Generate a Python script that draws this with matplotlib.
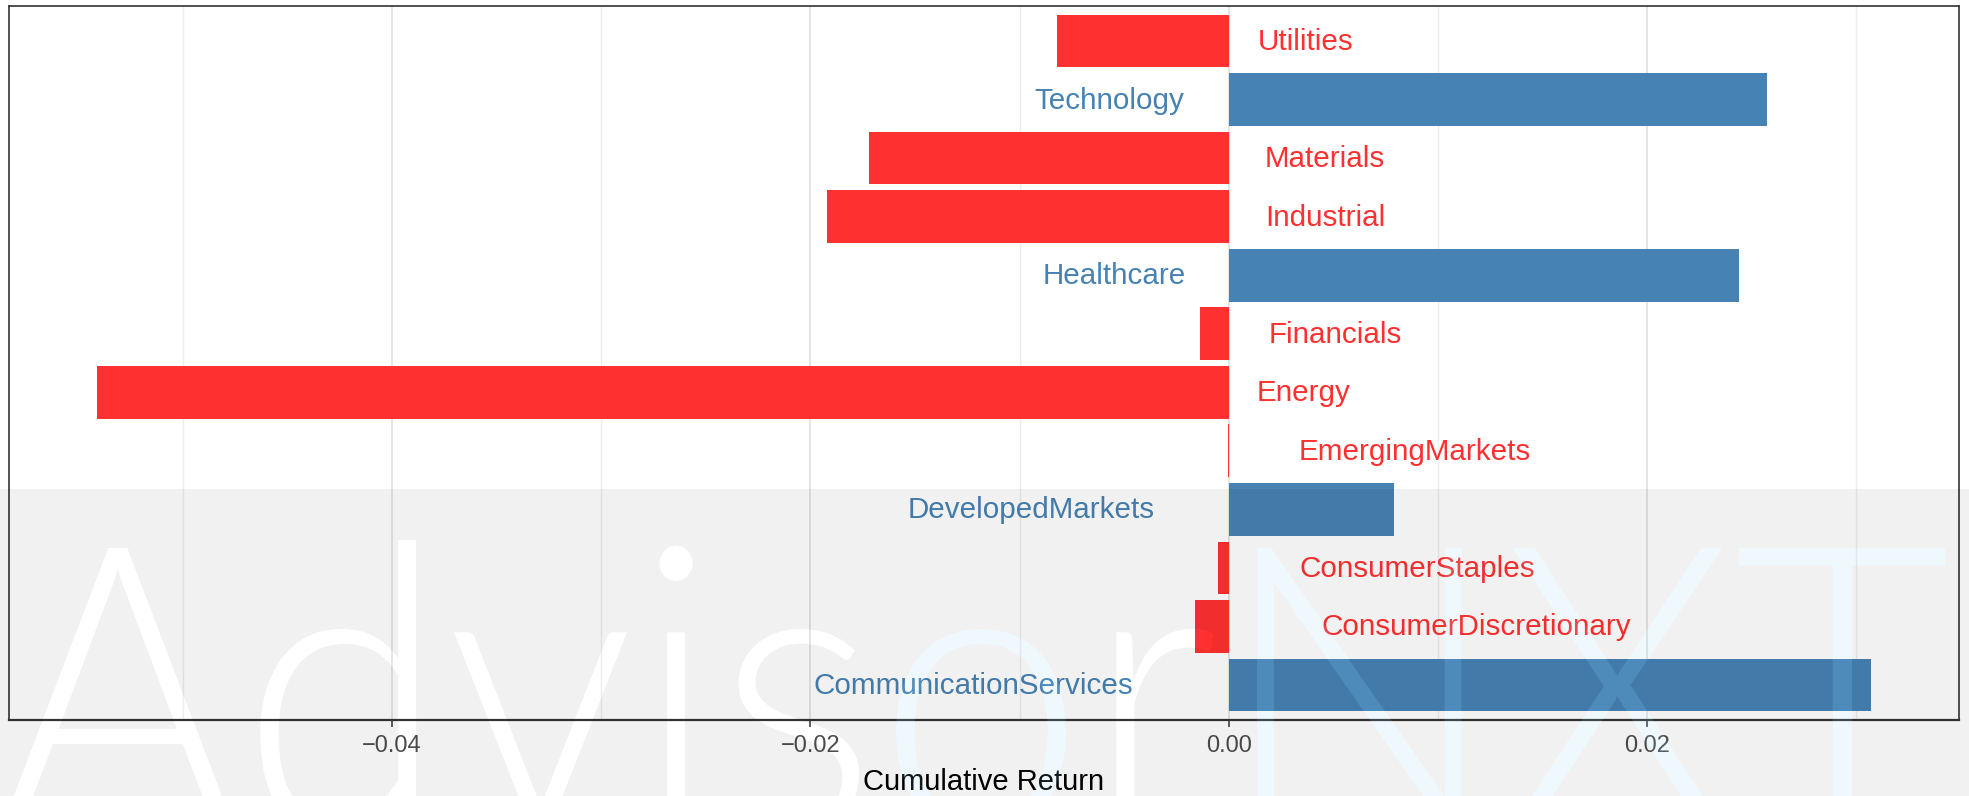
import numpy as np
import matplotlib
matplotlib.use("Agg")
import matplotlib.pyplot as plt
from matplotlib import font_manager
from matplotlib.path import Path
from matplotlib.patches import PathPatch
from matplotlib.textpath import TextPath, TextToPath
from matplotlib.font_manager import FontProperties
from matplotlib.transforms import Affine2D, IdentityTransform, offset_copy

# data, bottom to top
sectors = ["CommunicationServices", "ConsumerDiscretionary", "ConsumerStaples",
           "DevelopedMarkets", "EmergingMarkets", "Energy", "Financials",
           "Healthcare", "Industrial", "Materials", "Technology", "Utilities"]
returns = [0.0307, -0.0016, -0.0005, 0.0079, -0.00004, -0.0541, -0.0014,
           0.0244, -0.0192, -0.0172, 0.0257, -0.0082]
xticks = [-0.04, -0.02, 0.00, 0.02]
xtick_labels = ["\u22120.04", "\u22120.02", "0.00", "0.02"]

POS = "#4682B4"
NEG = "#FF3030"

plt.rcParams["font.family"] = ["Liberation Sans", "DejaVu Sans"]

W, H = 1969, 796
fig = plt.figure(figsize=(W / 100, H / 100), dpi=100)
fig.patch.set_facecolor("white")
ax = fig.add_axes([9 / W, (H - 720) / H, (1959 - 9) / W, (720 - 6) / H])

y = np.arange(len(sectors))
colors = [POS if r > 0 else NEG for r in returns]
ax.barh(y, returns, height=0.9, color=colors, zorder=2)

ax.set_xlim(-0.0583, 0.0349)
ax.set_ylim(-0.6, len(sectors) - 0.4)
ax.set_xticks(xticks)
ax.set_xticklabels(xtick_labels)
ax.set_xticks([-0.05, -0.03, -0.01, 0.01, 0.03], minor=True)
ax.set_yticks([])
ax.grid(axis="x", which="major", color="#E3E3E3", linewidth=1.3, zorder=0)
ax.grid(axis="x", which="minor", color="#EDEDED", linewidth=1.0, zorder=0)
ax.set_axisbelow(True)
ax.tick_params(axis="x", which="major", length=5, width=1.1, color="#333333",
               labelsize=17, labelcolor="#4D4D4D", pad=6)
ax.tick_params(axis="x", which="minor", length=0)
for s in ax.spines.values():
    s.set_color("#333333")
    s.set_linewidth(1.2)
ax.spines["bottom"].set_linewidth(1.6)
ax.set_xlabel("Cumulative Return", fontsize=21, color="black", labelpad=8)

# sector labels next to zero line (hjust 1.3 / -0.3)
texts = []
for yi, name, r, c in zip(y, sectors, returns, colors):
    t = ax.text(0, yi, name, color=c, fontsize=21.3, va="center",
                ha="right" if r > 0 else "left", zorder=3)
    texts.append((t, r))
fig.canvas.draw()
renderer = fig.canvas.get_renderer()
for t, r in texts:
    w = t.get_window_extent(renderer).width
    dx = -0.3 * w if r > 0 else 0.3 * w
    t.set_transform(offset_copy(ax.transData, fig=fig, x=dx, y=-1, units="dots"))

# watermark font: a light sans if one is installed
fp = None
for want in ("Lato-Light.", "Roboto-Light.", "OpenSans-Light.", "NotoSans-Light."):
    hits = [f.fname for f in font_manager.fontManager.ttflist if want in f.fname]
    if hits:
        fp = FontProperties(fname=hits[0])
        break
if fp is None:
    fp = FontProperties(family=["Lato", "DejaVu Sans"], weight="normal")

# watermark: grey band with letter-shaped holes
word = "AdvisorNXT"
tp_all = TextPath((0, 0), word, size=100, prop=fp)
ext = tp_all.get_extents()
cap = TextPath((0, 0), "N", size=100, prop=fp).get_extents().y1
band_top = H - 489
cap_top, base = H - 548, H - 832
sx = 1945 / (ext.x1 - ext.x0)
sy = (cap_top - base) / cap
to_disp = Affine2D().translate(-ext.x0, 0).scale(sx, sy).translate(0, base)
letters = tp_all.transformed(to_disp)


def area(p):
    return 0.5 * np.sum(p[:-1, 0] * p[1:, 1] - p[1:, 0] * p[:-1, 1])


big = max(letters.to_polygons(), key=lambda p: abs(area(p)))
rect = np.array([[0, 0], [W, 0], [W, band_top], [0, band_top], [0, 0]], float)
if np.sign(area(rect)) == np.sign(area(big)):
    rect = rect[::-1]
rect_path = Path(rect, [Path.MOVETO, Path.LINETO, Path.LINETO, Path.LINETO, Path.CLOSEPOLY])
band = Path.make_compound_path(rect_path, letters)
fig.patches.append(PathPatch(band, facecolor="black", alpha=0.054, edgecolor="none",
                             transform=IdentityTransform(), zorder=10))

# light cyan tint on the "o" and "NXT"
t2p = TextToPath()
for part, prefix in (("o", "Advis"), ("NXT", "Advisor")):
    w_pre = t2p.get_text_width_height_descent(prefix, fp, ismath=False)[0] * 100 / fp.get_size_in_points()
    p = TextPath((w_pre, 0), part, size=100, prop=fp).transformed(to_disp)
    fig.patches.append(PathPatch(p, facecolor="#87CEEB", alpha=0.13, edgecolor="none",
                                 transform=IdentityTransform(), zorder=11))

fig.savefig("out.png", dpi=100)
